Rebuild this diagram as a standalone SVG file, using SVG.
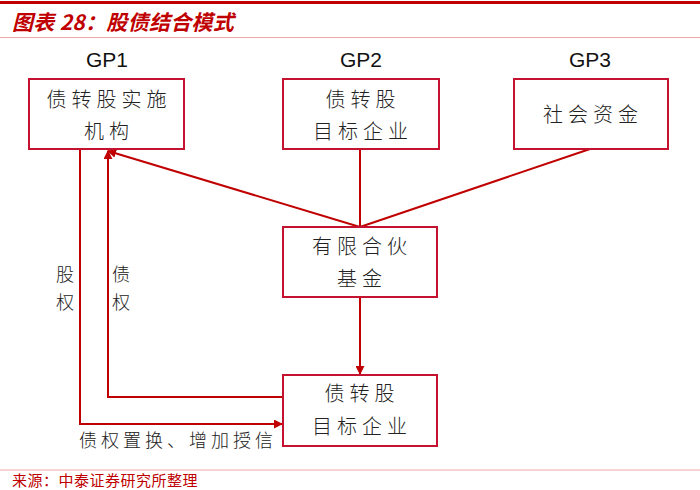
<svg xmlns="http://www.w3.org/2000/svg" width="700" height="490" viewBox="0 0 700 490">
<style>
.box{fill:#fff;stroke:#c41230;stroke-width:2}
.ln{fill:none;stroke:#c00000;stroke-width:2}
.cn{font-family:"Noto Sans CJK SC",sans-serif;font-size:20px;font-weight:300;fill:#222;text-anchor:middle;letter-spacing:5px}
.gp{font-family:"Liberation Sans",Arial,sans-serif;font-size:21px;fill:#111;text-anchor:middle}
.lb{font-family:"Noto Sans CJK SC",sans-serif;font-size:18px;font-weight:300;fill:#222;text-anchor:middle}
</style>
<defs>
<marker id="ar" viewBox="0 0 10 10" refX="9" refY="5" markerWidth="4.5" markerHeight="4.5" orient="auto" markerUnits="strokeWidth">
<path d="M0,0 L10,5 L0,10 z" fill="#c00000"/>
</marker>
</defs>
<rect x="0" y="0" width="700" height="490" fill="#fff"/>
<rect x="0" y="1" width="700" height="3" fill="#c00000"/>
<text x="12" y="30" font-family="'Noto Sans CJK SC',sans-serif" font-size="21" font-weight="bold" font-style="italic" fill="#c00000" letter-spacing="0.3">图表 28：股债结合模式</text>
<line x1="0" y1="37.5" x2="700" y2="37.5" stroke="#f0a8a8" stroke-width="1"/>
<g id="connectors">
<polyline class="ln" points="360,227 108,151" marker-end="url(#ar)"/>
<line class="ln" x1="360" y1="227" x2="360" y2="149"/>
<line class="ln" x1="360" y1="227" x2="590" y2="149"/>
<line class="ln" x1="360" y1="297" x2="360" y2="374" marker-end="url(#ar)"/>
<polyline class="ln" points="283,397 108,397 108,151" marker-end="url(#ar)"/>
<polyline class="ln" points="80,149 80,424 282,424" marker-end="url(#ar)"/>
</g>
<g id="gp1">
<text class="gp" x="107" y="67">GP1</text>
<rect class="box" x="29" y="79" width="155" height="70"/>
<text class="cn" x="109" y="107">债转股实施</text>
<text class="cn" x="109" y="139">机构</text>
</g>
<g id="gp2">
<text class="gp" x="361" y="67">GP2</text>
<rect class="box" x="283" y="79" width="156" height="70"/>
<text class="cn" x="363" y="107">债转股</text>
<text class="cn" x="363" y="139">目标企业</text>
</g>
<g id="gp3">
<text class="gp" x="590" y="67">GP3</text>
<rect class="box" x="514" y="79" width="154" height="70"/>
<text class="cn" x="593" y="122">社会资金</text>
</g>
<g id="fund">
<rect class="box" x="283" y="227" width="154" height="70"/>
<text class="cn" x="362" y="254">有限合伙</text>
<text class="cn" x="362" y="286">基金</text>
</g>
<g id="target">
<rect class="box" x="283" y="375" width="154" height="71"/>
<text class="cn" x="362" y="401">债转股</text>
<text class="cn" x="362" y="434">目标企业</text>
</g>
<g id="labels">
<text class="lb" x="65" y="281">股</text>
<text class="lb" x="65" y="309">权</text>
<text class="lb" x="121" y="281">债</text>
<text class="lb" x="121" y="309">权</text>
<text class="lb" x="178" y="447" letter-spacing="4">债权置换、增加授信</text>
</g>
<line x1="0" y1="470" x2="700" y2="470" stroke="#f0a8a8" stroke-width="1"/>
<text x="12" y="486" font-family="'Noto Sans CJK SC',sans-serif" font-size="15" fill="#c00000" letter-spacing="0.5">来源：中泰证券研究所整理</text>
</svg>
